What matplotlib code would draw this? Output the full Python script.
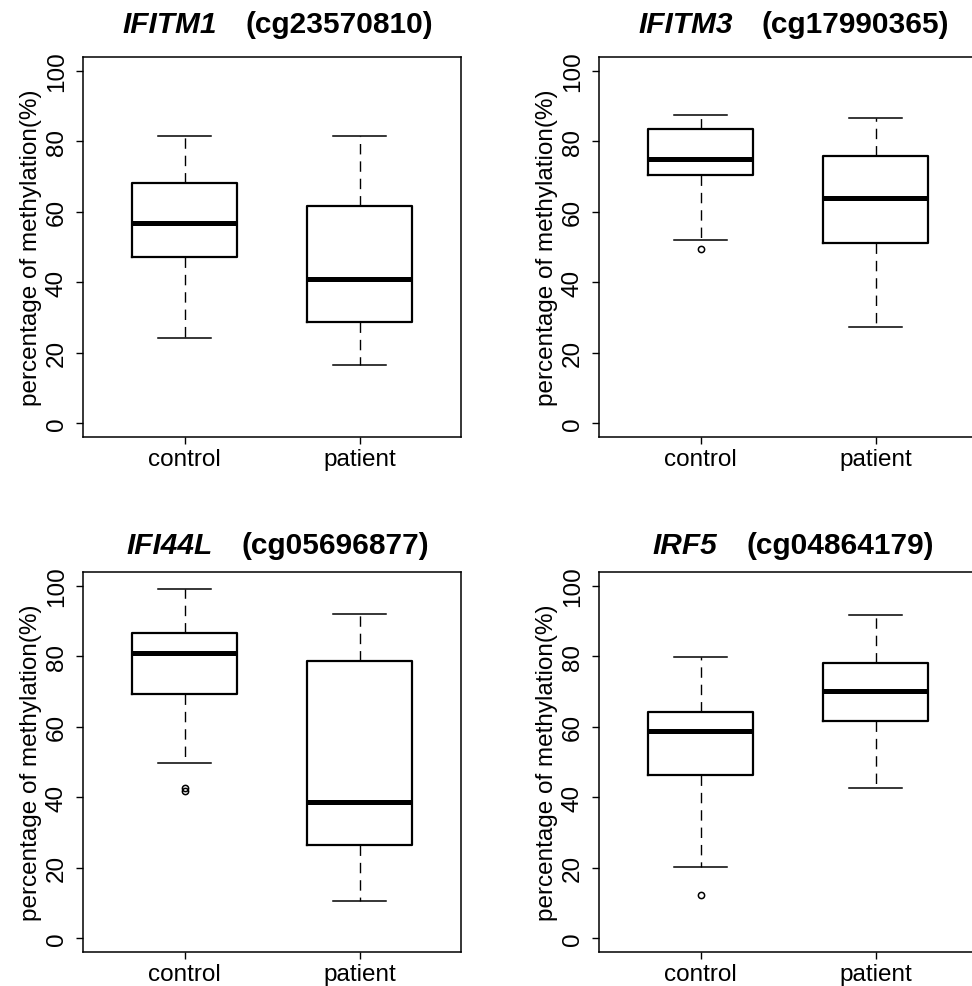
import matplotlib
matplotlib.use("Agg")
import matplotlib.pyplot as plt
from matplotlib.offsetbox import TextArea, HPacker, AnchoredOffsetbox

plt.rcParams['font.family'] = ['Liberation Sans', 'DejaVu Sans']

groups = ['control', 'patient']
genes = ['IFITM1', 'IFITM3', 'IFI44L', 'IRF5']
probes = ['cg23570810', 'cg17990365', 'cg05696877', 'cg04864179']

# five-number summaries per gene: [control, patient]
whislo = [[24.1, 16.4], [51.9, 27.3], [49.7, 10.6], [20.3, 42.7]]
q1 = [[47.3, 28.8], [70.6, 51.0], [69.2, 26.5], [46.3, 61.6]]
med = [[56.9, 40.8], [75.1, 64.0], [81.0, 38.6], [58.8, 70.1]]
q3 = [[68.3, 61.6], [83.6, 75.8], [86.6, 78.8], [64.3, 78.1]]
whishi = [[81.6, 81.6], [87.5, 86.8], [99.2, 92.2], [79.9, 91.9]]
fliers = [[[], []], [[49.4], []], [[42.6, 41.7], []], [[12.1], []]]

yticks = [0, 20, 40, 60, 80, 100]

W, H = 972, 987
fig = plt.figure(figsize=(W / 100, H / 100), dpi=100)

# axes boxes in pixels: left, top, right, bottom
boxes = [(83, 58, 461, 438), (599, 58, 977, 438),
         (83, 573, 461, 953), (599, 573, 977, 953)]
title_y = [1.05, 1.05, 1.035, 1.035]

for i in range(4):
    l, t, r, b = boxes[i]
    ax = fig.add_axes([l / W, 1 - b / H, (r - l) / W, (b - t) / H])
    stats = []
    for j in range(2):
        stats.append(dict(whislo=whislo[i][j], q1=q1[i][j], med=med[i][j],
                          q3=q3[i][j], whishi=whishi[i][j], fliers=fliers[i][j]))
    ax.bxp(stats, positions=[1, 2], widths=0.6, showfliers=True,
           boxprops=dict(color='black', linewidth=1.6),
           medianprops=dict(color='black', linewidth=3.6, solid_capstyle='butt'),
           whiskerprops=dict(color='black', linewidth=1.0, linestyle=(0, (7.5, 5))),
           capprops=dict(color='black', linewidth=1.1),
           capwidths=0.3,
           flierprops=dict(marker='o', markerfacecolor='none', markeredgecolor='black',
                           markersize=4.5, markeredgewidth=1.1))
    ax.set_xlim(0.42, 2.58)
    ax.set_ylim(-4, 104)
    ax.set_xticks([1, 2])
    ax.set_xticklabels(groups, fontsize=17.5)
    ax.set_yticks(yticks)
    ax.set_yticklabels([str(v) for v in yticks], fontsize=17.5, rotation=90, va='center')
    ax.tick_params(axis='both', direction='out', length=5, width=1.0, color='black')
    ax.tick_params(axis='y', pad=6)
    ax.tick_params(axis='x', pad=3)
    for s in ax.spines.values():
        s.set_linewidth(1.1)
    ax.set_ylabel('percentage of methylation(%)', fontsize=17.5, labelpad=3)

    # title: gene name bold italic, probe id bold
    t1 = TextArea(genes[i], textprops=dict(fontsize=21.5, fontweight='bold', fontstyle='italic'))
    t2 = TextArea('(' + probes[i] + ')', textprops=dict(fontsize=21.5, fontweight='bold'))
    pack = HPacker(children=[t1, t2], align='baseline', pad=0, sep=21)
    anch = AnchoredOffsetbox(loc='lower center', child=pack, pad=0, borderpad=0,
                             frameon=False, bbox_to_anchor=(0.515, title_y[i]),
                             bbox_transform=ax.transAxes)
    ax.add_artist(anch)

fig.savefig('out.png', dpi=100)
